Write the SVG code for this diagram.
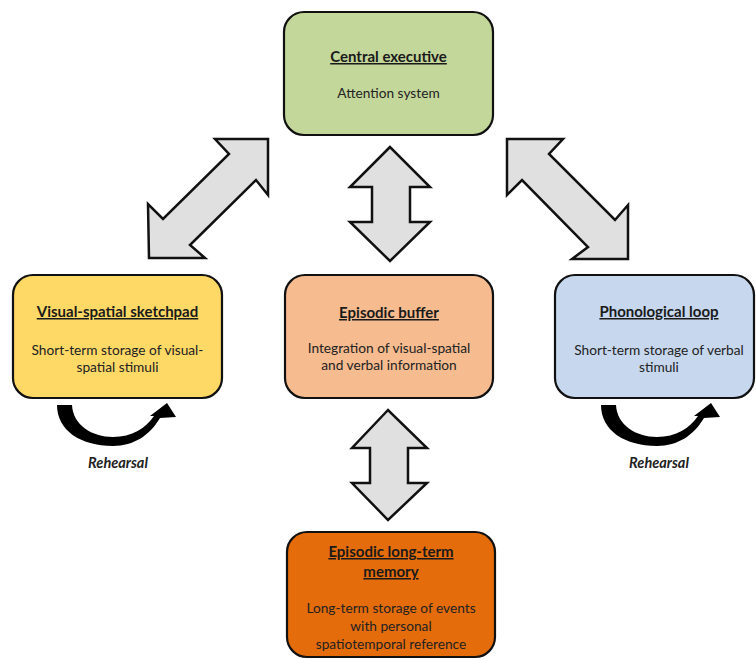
<svg xmlns="http://www.w3.org/2000/svg" width="756" height="659" viewBox="0 0 756 659">
<style>
.box{stroke:#111;stroke-width:2.2}
.arr{fill:#e0e0e0;stroke:#111;stroke-width:2.5;stroke-linejoin:miter}
.t{font-family:Lato,"Open Sans","Liberation Sans",sans-serif;font-size:15px;font-weight:bold;fill:#1a1a1a;text-anchor:middle;text-decoration:underline}
.s{font-family:Lato,"Open Sans","Liberation Sans",sans-serif;font-size:13.7px;fill:#222;text-anchor:middle}
.r{font-family:Lato,"Open Sans","Liberation Sans",sans-serif;font-size:14.5px;font-weight:bold;font-style:italic;fill:#222;text-anchor:middle}
.reh{fill:#000}
</style>
<rect width="756" height="659" fill="#fff"/>
<g id="connectors">
<polygon class="arr" points="268,139 215,139 229,154 163,219 148,204 149,258 205,258 190,245 256,180 268,195"/>
<polygon class="arr" points="507,139 563,139 549,154 615,220 628,205 628,259 572,259 588,247 522,180 507,195"/>
<polygon class="arr" points="390,147 350,187 372,187 372,222 350,222 390,261 430,222 410,222 410,187 430,187"/>
<polygon class="arr" points="388,410 352,448 370,448 370,483 352,483 388,520 427,483 408,483 408,448 427,448"/>
<path id="reh-left" class="reh" d="M57,405 C57,430 80,446 113,446 C134,446 150,435 160,418 L176,417 L167,403 L150,416 L154,416 C146,428 132,437 113,437 C92,437 73,425 72,405 Z"/>
<path id="reh-right" class="reh" transform="translate(544,0)" d="M57,405 C57,430 80,446 113,446 C134,446 150,435 160,418 L176,417 L167,403 L150,416 L154,416 C146,428 132,437 113,437 C92,437 73,425 72,405 Z"/>
</g>
<g id="central-executive">
<rect class="box" x="284" y="12" width="209" height="123" rx="20" fill="#c4d79b"/>
<text class="t" x="388.5" y="62">Central executive</text>
<text class="s" x="388.5" y="98">Attention system</text>
</g>
<g id="visual-spatial-sketchpad">
<rect class="box" x="13" y="275" width="209" height="123" rx="20" fill="#ffd966"/>
<text class="t" x="117.5" y="317">Visual-spatial sketchpad</text>
<text class="s" x="117.5" y="355">Short-term storage of visual-</text>
<text class="s" x="117.5" y="372">spatial stimuli</text>
<text class="r" x="118" y="468">Rehearsal</text>
</g>
<g id="episodic-buffer">
<rect class="box" x="285" y="275" width="208" height="123" rx="20" fill="#f6bb8f"/>
<text class="t" x="389" y="318">Episodic buffer</text>
<text class="s" x="389" y="353">Integration of visual-spatial</text>
<text class="s" x="389" y="370">and verbal information</text>
</g>
<g id="phonological-loop">
<rect class="box" x="555" y="275" width="199" height="123" rx="20" fill="#c6d7ee"/>
<text class="t" x="659" y="317">Phonological loop</text>
<text class="s" x="659" y="355">Short-term storage of verbal</text>
<text class="s" x="659" y="372">stimuli</text>
<text class="r" x="659" y="468">Rehearsal</text>
</g>
<g id="episodic-long-term-memory">
<rect class="box" x="287" y="532" width="208" height="125" rx="20" fill="#e46c0a"/>
<text class="t" x="391" y="557">Episodic long-term</text>
<text class="t" x="391" y="577">memory</text>
<text class="s" x="391" y="613">Long-term storage of events</text>
<text class="s" x="391" y="631">with personal</text>
<text class="s" x="391" y="649">spatiotemporal reference</text>
</g>
</svg>
